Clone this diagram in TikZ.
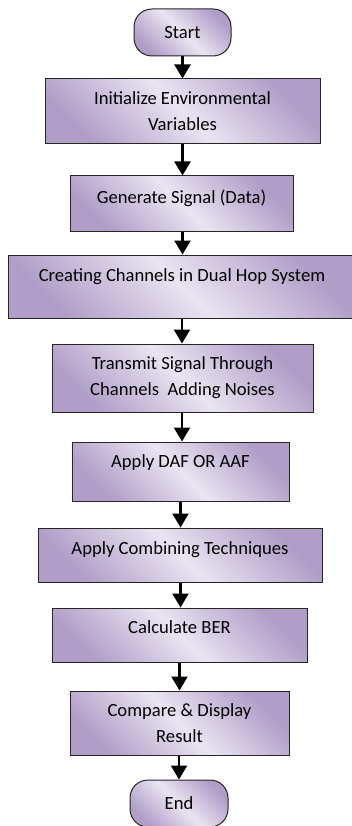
\documentclass[tikz,border=0pt]{standalone}
\usepackage{fontspec}
\setmainfont{Carlito}
\usetikzlibrary{arrows.meta}
\definecolor{pD}{RGB}{176,158,200}
\definecolor{pL}{RGB}{233,228,241}
\tikzset{
  box/.style={draw=black!85, line width=1pt, top color=pD, bottom color=pD, middle color=pL,
    shading angle=-45, align=center, inner sep=0pt, font=\fontsize{18.6}{26}\selectfont},
  term/.style={box, rounded corners=18pt},
  arr/.style={line width=2.4pt, -{Triangle[width=16pt,length=14pt]}}
}
\begin{document}
\begin{tikzpicture}[x=1pt,y=-1pt]
\useasboundingbox (0,0) rectangle (352,826);
\begin{scope}
\clip (0,0) rectangle (352,826);
\node[term, minimum width=97pt, minimum height=47pt] (start) at (182.5,32.5) {Start};
\node[box, minimum width=275pt, minimum height=65pt] (init) at (182.5,111.5) {Initialize Environmental\\Variables};
\node[box, minimum width=223pt, minimum height=55pt, text height=13pt, text depth=13pt] (gen) at (181.5,203.5) {Generate Signal (Data)};
\node[box, minimum width=348pt, minimum height=63pt, text height=13pt, text depth=23pt] (create) at (182,286.5) {Creating Channels in Dual Hop System};
\node[box, minimum width=261pt, minimum height=68pt] (trans) at (182.5,378) {Transmit Signal Through\\Channels\ \ Adding Noises};
\node[box, minimum width=217pt, minimum height=59pt, text height=13pt, text depth=21pt] (daf) at (180.5,471.5) {Apply DAF OR AAF};
\node[box, minimum width=284pt, minimum height=54pt, text height=13pt, text depth=14pt] (comb) at (180,555) {Apply Combining Techniques};
\node[box, minimum width=255pt, minimum height=54pt, text height=13pt, text depth=16pt] (ber) at (179.5,635) {Calculate BER};
\node[box, minimum width=219pt, minimum height=64pt] (comp) at (179.5,723) {Compare \& Display\\Result};
\node[term, minimum width=98pt, minimum height=47pt] (end) at (179,803.5) {End};
\end{scope}
\draw[arr] (start.south) -- (start.south |- init.north);
\draw[arr] (init.south) -- (init.south |- gen.north);
\draw[arr] (gen.south -| init.south) -- (init.south |- create.north);
\draw[arr] (create.south) -- (create.south |- trans.north);
\draw[arr] (trans.south -| create.south) -- (create.south |- daf.north);
\draw[arr] (daf.south) -- (daf.south |- comb.north);
\draw[arr] (comb.south -| daf.south) -- (daf.south |- ber.north);
\draw[arr] (ber.south) -- (ber.south |- comp.north);
\draw[arr] (comp.south -| end.north) -- (end.north);
\end{tikzpicture}
\end{document}
